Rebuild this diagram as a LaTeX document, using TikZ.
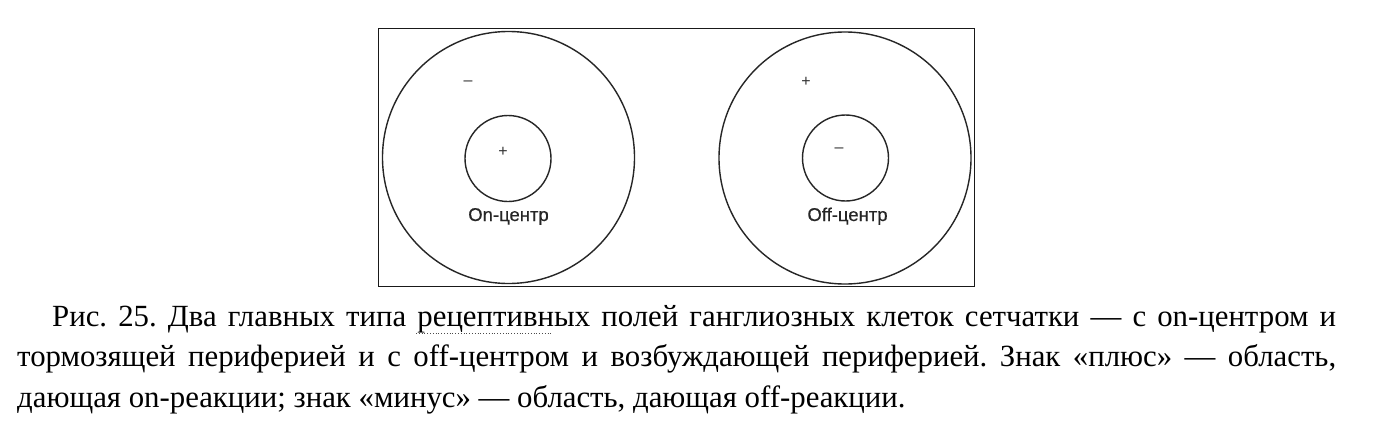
\documentclass[tikz,border=0pt]{standalone}
\usepackage{fontspec}
\setmainfont{Liberation Serif}
\newfontfamily\labelfont[FakeBold=0.5]{Liberation Sans}
\newfontfamily\signfont{Liberation Sans}
\frenchspacing
\begin{document}
\begin{tikzpicture}[x=1pt,y=-1pt]
\tikzset{
  ring/.style={circle, draw=black!85, line width=1.4pt, inner sep=0pt},
  lbl/.style={font=\labelfont\fontsize{18.5}{20}\selectfont, text=black!85, inner sep=0pt},
  sign/.style={font=\signfont\fontsize{16}{17}\selectfont, text=black!80, inner sep=0pt},
  capline/.style={anchor=base west, inner sep=0pt, font=\fontsize{30.8}{38}\selectfont}
}
\useasboundingbox (0,0) rectangle (1378,436);
\fill[white] (0,0) rectangle (1378,436);
% frame
\draw[line width=1pt, black!90] (378,29) rectangle (974,286);
% left field
\node[ring, minimum size=252pt] (outerL) at (508.5,157.5) {};
\node[ring, minimum size=86pt] (innerL) at (508,158.5) {};
\node[sign] (minusL) at (468,83) {–};
\node[sign] (plusL) at (503,152) {+};
\node[lbl, anchor=base] (onlab) at (508.5,221) {On-центр};
% right field
\node[ring, minimum size=252pt] (outerR) at (845,158) {};
\node[ring, minimum size=86pt] (innerR) at (845.5,158) {};
\node[sign] (plusR) at (806,82) {+};
\node[sign] (minusR) at (839,150) {–};
\node[lbl, anchor=base] (offlab) at (847.5,221) {Off-центр};
% caption
\node[capline] (cap1) at (52,326) {\makebox[1284pt][s]{Рис. 25. Два главных типа рецептивных полей ганглиозных клеток сетчатки — с on-центром и}};
\node[capline] (cap2) at (17,366) {\makebox[1319pt][s]{тормозящей периферией и с off-центром и возбуждающей периферией. Знак «плюс» — область,}};
\node[capline] (cap3) at (17,407) {дающая on-реакции; знак «минус» — область, дающая off-реакции.};
\draw[dotted, line width=0.8pt, black!70] (416,333) -- (553,333);
\end{tikzpicture}
\end{document}
